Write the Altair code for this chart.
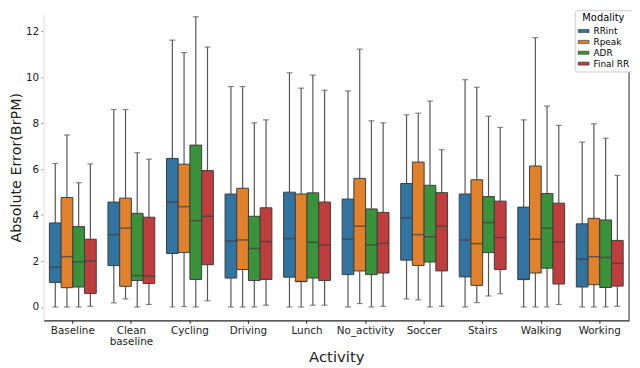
import altair as alt
import pandas as pd

activities = ["Baseline", "Clean baseline", "Cycling", "Driving", "Lunch",
              "No_activity", "Soccer", "Stairs", "Walking", "Working"]
modalities = ["RRint", "Rpeak", "ADR", "Final RR"]
colors = ["#3274a1", "#e1812c", "#3a923a", "#c03d3e"]

# per activity: [RRint, Rpeak, ADR, Final RR]
whis_lo = [
    [0.00, 0.00, 0.00, 0.03],
    [0.18, 0.35, 0.00, 0.11],
    [0.00, 0.02, 0.00, 0.27],
    [0.00, 0.00, 0.00, 0.08],
    [0.00, 0.00, 0.08, 0.08],
    [0.00, 0.15, 0.00, 0.03],
    [0.35, 0.31, 0.00, 0.03],
    [0.00, 0.19, 0.48, 0.58],
    [0.00, 0.00, 0.00, 0.11],
    [0.00, 0.00, 0.00, 0.03],
]
q1 = [
    [1.07, 0.84, 0.87, 0.59],
    [1.80, 0.90, 1.15, 1.02],
    [2.33, 2.37, 1.20, 1.84],
    [1.26, 1.63, 1.15, 1.20],
    [1.30, 1.11, 1.26, 1.15],
    [1.41, 1.57, 1.41, 1.48],
    [2.04, 1.81, 1.96, 1.57],
    [1.31, 0.94, 2.37, 1.63],
    [1.20, 1.48, 1.69, 1.00],
    [0.87, 0.97, 0.85, 0.91],
]
median = [
    [1.73, 2.19, 1.97, 2.01],
    [3.15, 3.43, 1.37, 1.34],
    [4.57, 4.37, 3.76, 3.95],
    [2.87, 2.92, 2.55, 2.85],
    [2.98, 1.11, 2.82, 2.70],
    [2.95, 3.52, 2.70, 2.77],
    [3.88, 3.15, 3.06, 3.52],
    [2.92, 2.76, 3.68, 3.02],
    [1.20, 2.95, 3.43, 2.83],
    [2.09, 2.19, 2.16, 1.90],
]
q3 = [
    [3.66, 4.77, 3.50, 2.95],
    [4.57, 4.74, 4.08, 3.91],
    [6.47, 6.22, 7.05, 5.94],
    [4.92, 5.17, 3.95, 4.32],
    [5.00, 4.92, 4.97, 4.57],
    [4.70, 5.60, 4.27, 4.12],
    [5.38, 6.31, 5.30, 4.98],
    [4.92, 5.54, 4.81, 4.61],
    [4.35, 6.14, 4.94, 4.52],
    [3.62, 3.86, 3.79, 2.90],
]
whis_hi = [
    [6.25, 7.49, 5.41, 6.23],
    [8.60, 8.60, 6.72, 6.44],
    [11.62, 11.08, 12.64, 11.32],
    [9.60, 9.60, 8.02, 8.15],
    [10.20, 9.53, 10.10, 9.44],
    [9.41, 11.23, 8.11, 8.02],
    [8.37, 8.44, 8.97, 6.85],
    [9.90, 9.57, 8.31, 7.82],
    [8.15, 11.73, 8.75, 7.91],
    [7.18, 7.98, 7.35, 5.73],
]

rows = []
for i, a in enumerate(activities):
    for j, m in enumerate(modalities):
        rows.append(dict(Activity=a, Modality=m, lo=whis_lo[i][j], q1=q1[i][j],
                         med=median[i][j], q3=q3[i][j], hi=whis_hi[i][j]))
df = pd.DataFrame(rows)

W, H = 593, 310
FONT = "DejaVu Sans"

xenc = alt.X(
    "Activity:N", sort=activities,
    scale=alt.Scale(paddingInner=0.2, paddingOuter=0.1),
    axis=alt.Axis(
        title="Activity", labelAngle=0, labelFontSize=10.5, titleFontSize=15,
        titleFontWeight="normal", labelColor="#222", titleColor="#222",
        labelExpr="datum.value == 'Clean baseline' ? ['Clean', 'baseline'] : datum.value",
        labelLineHeight=12, tickSize=3, labelPadding=2, titlePadding=2,
        domainColor="#222", domainWidth=1.2, tickColor="#222",
    ),
)
xoff = alt.XOffset("Modality:N", sort=modalities,
                   scale=alt.Scale(domain=modalities, paddingInner=0, paddingOuter=0))
yscale = alt.Scale(domain=[-0.58, 12.75], nice=False, zero=False)
yaxis = alt.Axis(
    title="Absolute Error(BrPM)", values=[0, 2, 4, 6, 8, 10, 12], grid=False,
    labelFontSize=10.5, titleFontSize=14.5, titleFontWeight="normal",
    labelColor="#222", titleColor="#222", tickSize=3, labelPadding=2,
    titlePadding=2, domainColor="#dddddd", tickColor="#aaaaaa",
)
color = alt.Color(
    "Modality:N", sort=modalities,
    scale=alt.Scale(domain=modalities, range=colors),
    legend=alt.Legend(
        title="Modality", orient="none", legendX=W - 55, legendY=-4,
        titleFontSize=10, titleFontWeight="normal", titleAnchor="middle",
        labelFontSize=9, symbolType="M-1,-0.28H1V0.28H-1Z", symbolSize=121,
        symbolStrokeWidth=0.6, symbolStrokeColor="#333",
        fillColor="white", strokeColor="#cccccc", padding=3, rowPadding=0,
        labelOffset=4, titlePadding=2, cornerRadius=2,
    ),
)

base = alt.Chart(df)
whisk = base.mark_rule(color="#555555", strokeWidth=1.2).encode(
    x=xenc, xOffset=xoff, y=alt.Y("lo:Q", scale=yscale, axis=yaxis), y2="hi:Q")
box = base.mark_bar(stroke="#3d3d3d", strokeWidth=1).encode(
    x=xenc, xOffset=xoff, y=alt.Y("q1:Q", scale=yscale), y2="q3:Q", color=color)
med = base.mark_tick(color="#3d3d3d", size=12, thickness=1.5).encode(
    x=xenc, xOffset=xoff, y=alt.Y("med:Q", scale=yscale))
cap_lo = base.mark_tick(color="#555555", size=6, thickness=1.2).encode(
    x=xenc, xOffset=xoff, y=alt.Y("lo:Q", scale=yscale))
cap_hi = base.mark_tick(color="#555555", size=6, thickness=1.2).encode(
    x=xenc, xOffset=xoff, y=alt.Y("hi:Q", scale=yscale))
spine = alt.Chart(pd.DataFrame({"a": [0]})).mark_rule(color="#222", strokeWidth=1).encode(
    x=alt.value(W), y=alt.value(0), y2=alt.value(H))

chart = alt.layer(whisk, box, med, cap_lo, cap_hi, spine).properties(
    width=W, height=H,
    autosize=alt.AutoSizeParams(type="none"),
    padding={"left": 36, "top": 4, "right": 3, "bottom": 46},
).configure(font=FONT).configure_view(stroke=None)

chart.save("out.html", embed_options={"renderer": "svg", "actions": False})
